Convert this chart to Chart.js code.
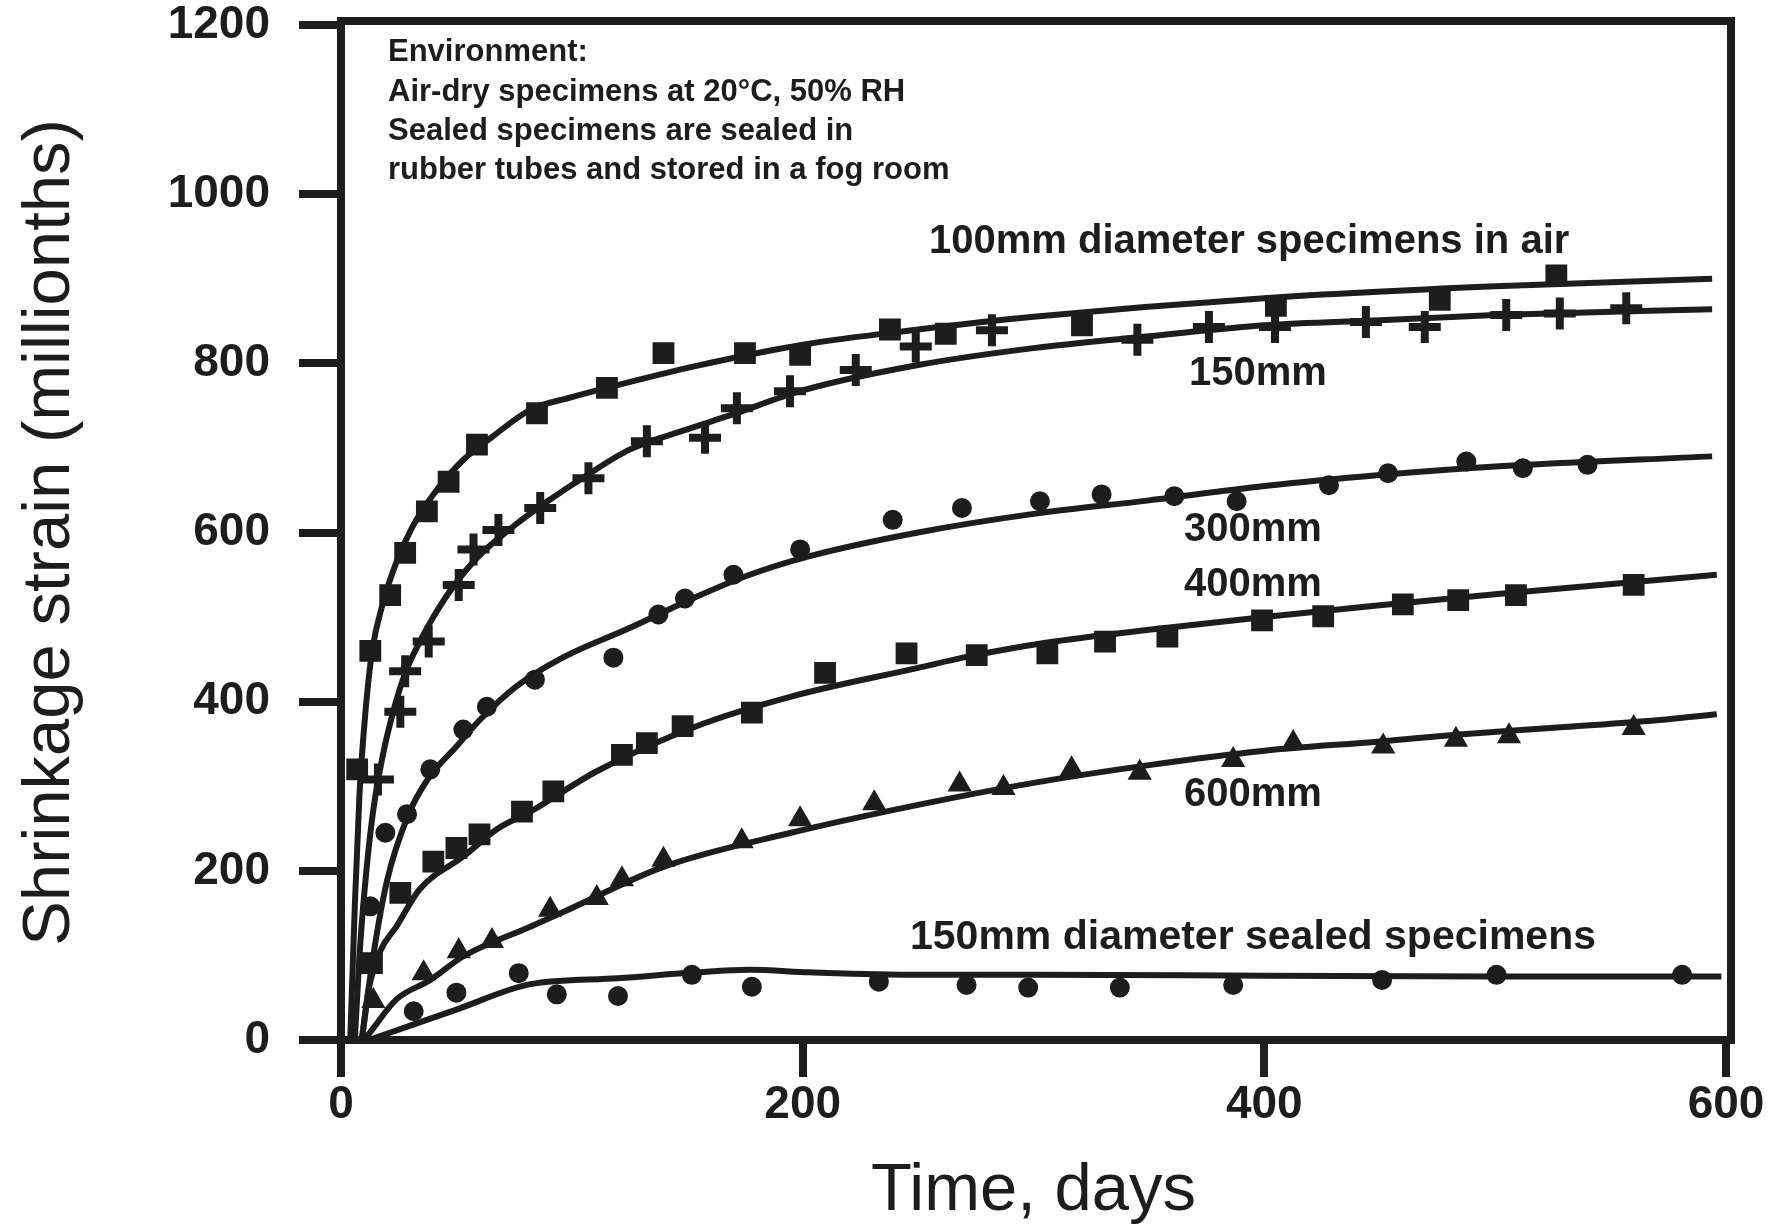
<!DOCTYPE html>
<html>
<head>
<meta charset="utf-8">
<title>Shrinkage strain vs time</title>
<script src="https://cdn.jsdelivr.net/npm/chart.js@4.4.1/dist/chart.umd.min.js"></script>
<style>
  html, body { margin: 0; padding: 0; background: #fff; }
  #wrap { width: 1781px; height: 1229px; }
</style>
</head>
<body>
<div id="wrap"><canvas id="chart" width="1781" height="1229"></canvas></div>
<script>
// ---------------------------------------------------------------------------
// Data: [days, strain in millionths]
// ---------------------------------------------------------------------------
const air100Pts = [[7,320],[12.7,460],[21.3,526],[27.8,576],[37.2,625],[46.6,660],[58.9,704],[84.9,741],[115.2,771],[139.7,812],[175,812],[198.9,810],[237.8,840],[262,835],[321,845],[405,868],[476,875],[526.5,904]];
const air100Fit = [[4,0],[6,160],[8,290],[10.5,385],[13.5,460],[18,515],[24,565],[31,607],[40,645],[53,686],[65,712],[82,745],[100,760],[118,773],[154,797],[200,822],[250,840],[300,855],[400,877],[500,891],[594,900]];

const air150Pts = [[16,308],[25.7,388],[27.8,436],[38,471],[51,538],[57.4,580],[68.2,603],[86.3,629],[107.2,664],[132.5,708],[157.7,712],[171.5,747],[194.5,767],[223,792],[249,820],[282,839],[345,828],[376,843],[404.6,843],[444,849],[469.5,843],[504.8,857],[528,859],[556.8,865]];
const air150Fit = [[6,0],[8,100],[11,200],[14,272],[18,335],[22.8,390],[28,435],[34,470],[40,500],[48.6,536],[60,573],[75,608],[89,636],[105,665],[125,698],[150,722],[169,739],[200,768],[250,798],[300,818],[350,832],[400,845],[450,851],[500,857],[594,864]];

const air300Pts = [[12.7,158],[19.2,245],[28.6,267],[38.7,320],[53,367],[63.2,394],[84,426],[118,452],[137.5,503],[149,522],[170,550],[198.9,580],[239,615],[269,629],[302.8,637],[329.5,645],[361,643],[388,637],[428,656],[453.6,670],[487.5,684],[512,676],[540,680]];
const air300Fit = [[9,0],[14,100],[20,189],[29,265],[38,310],[50,347],[60,378],[76,418],[96,452],[125,487],[154,524],[175,548],[203,572],[250,600],[300,622],[350,638],[400,655],[450,668],[500,678],[594,690]];

const air400Pts = [[13.4,91],[25.7,174],[40,211],[50,227],[60,243],[78.4,270],[92,294],[121.7,337],[132.5,351],[148,371],[178,387],[209.7,434],[245,457],[275.4,455],[306,457],[331,471],[358,477],[399,496],[425.5,501],[460,515],[484,520],[509,526],[560,538]];
const air400Fit = [[9,0],[12,60],[17,105],[24,134],[34,178],[53,217],[68,250],[82,270],[111,318],[154,371],[195,406],[250,440],[271,453],[306,470],[350,485],[400,500],[450,514],[500,527],[596,550]];

const air600Pts = [[14,46],[35.8,79],[51,105],[65.4,117],[90.6,154],[110.8,168],[121.7,190],[139.7,213],[173.6,235],[198.9,261],[231,280],[268,302],[287,298],[316.5,320],[346,316],[386.5,331],[412.5,351],[451.5,347],[483,355],[506,359],[560,369]];
const air600Fit = [[10,0],[14,14],[24,48],[38.7,71],[53,99],[82,134],[96,151],[140,205],[195,245],[250,278],[300,304],[350,325],[400,342],[450,353],[483,361],[530,370],[574,379],[596,385]];

const sealedPts = [[31.5,34],[50,56],[77,79],[93.5,54],[120,52],[152,77],[178,63],[233,69],[271,65],[297.7,62],[337.4,62],[386.5,65],[451,71],[500.6,77],[581,77]];
const sealedFit = [[12,0],[30,17],[50,36],[82,66],[120,73],[154,80],[177,83],[203,80],[250,77],[300,77],[400,76],[500,75],[598,75]];

const xTicks = [0, 200, 400, 600];
const yTicks = [0, 200, 400, 600, 800, 1000, 1200];

// ---------------------------------------------------------------------------
// Style
// ---------------------------------------------------------------------------
const INK = "#1d1d1d";
const FONT = '"Liberation Sans", Arial, Helvetica, sans-serif';
Chart.defaults.font.family = FONT;
Chart.defaults.color = INK;

const xy = pts => pts.map(([x, y]) => ({ x, y }));

const fit = pts => ({
  type: "line",
  data: xy(pts),
  borderColor: INK,
  borderWidth: 6,
  pointRadius: 0,
  fill: false,
  cubicInterpolationMode: "monotone",
  order: 2,
});

const marks = (pts, style, radius, extra = {}) => ({
  type: "scatter",
  data: xy(pts),
  pointStyle: style,
  pointRadius: radius,
  backgroundColor: INK,
  borderColor: INK,
  borderWidth: 2,
  order: 1,
  ...extra,
});

// free text inside the plot (pixel anchors, left / middle)
const notes = [
  { text: "Environment:",                          x: 388, y: 52,  size: 31 },
  { text: "Air-dry specimens at 20°C, 50% RH",     x: 388, y: 92,  size: 31 },
  { text: "Sealed specimens are sealed in",        x: 388, y: 131, size: 31 },
  { text: "rubber tubes and stored in a fog room", x: 388, y: 170, size: 31 },
  { text: "100mm diameter specimens in air",       x: 929, y: 242, size: 40 },
  { text: "150mm",                                 x: 1189, y: 374, size: 40 },
  { text: "300mm",                                 x: 1184, y: 530, size: 40 },
  { text: "400mm",                                 x: 1184, y: 585, size: 40 },
  { text: "600mm",                                 x: 1184, y: 795, size: 40 },
  { text: "150mm diameter sealed specimens",       x: 910, y: 938, size: 41 },
];

const notesPlugin = {
  id: "notes",
  afterDatasetsDraw(chart) {
    const { ctx } = chart;
    ctx.save();
    ctx.fillStyle = INK;
    ctx.textBaseline = "middle";
    ctx.textAlign = "left";
    notes.forEach(n => {
      ctx.font = `bold ${n.size}px ${FONT}`;
      ctx.fillText(n.text, n.x, n.y);
    });
    ctx.restore();
  },
};

// top and right edges of the box
const framePlugin = {
  id: "frame",
  afterDraw(chart) {
    const { ctx, chartArea: a } = chart;
    ctx.save();
    ctx.strokeStyle = INK;
    ctx.lineWidth = 8;
    ctx.lineCap = "square";
    ctx.beginPath();
    ctx.moveTo(a.left, a.top - 4);
    ctx.lineTo(a.right + 5, a.top - 4);
    ctx.lineTo(a.right + 5, a.bottom);
    ctx.stroke();
    ctx.restore();
  },
};

const axisCommon = {
  type: "linear",
  grid: { drawOnChartArea: false, drawTicks: true, color: INK, lineWidth: 8 },
  border: { display: true, color: INK, width: 8 },
};

const tickFont = { size: 46, weight: "bold", lineHeight: 1.09 };

new Chart(document.getElementById("chart"), {
  data: {
    datasets: [
      fit(air100Fit), fit(air150Fit), fit(air300Fit),
      fit(air400Fit), fit(air600Fit), fit(sealedFit),
      marks(air100Pts, "rect", 14),
      marks(air150Pts, "cross", 16, { borderWidth: 8 }),
      marks(air300Pts, "circle", 9),
      marks(air400Pts, "rect", 14),
      marks(air600Pts, "triangle", 12),
      marks(sealedPts, "circle", 9),
    ],
  },
  options: {
    responsive: false,
    animation: false,
    events: [],
    layout: { padding: { top: 25, right: 55, left: 0, bottom: 0 } },
    plugins: { legend: { display: false }, tooltip: { enabled: false } },
    scales: {
      x: {
        ...axisCommon,
        min: 0, max: 600,
        grid: { ...axisCommon.grid, tickLength: 37 },
        afterBuildTicks: s => { s.ticks = xTicks.map(value => ({ value })); },
        afterFit: s => { s.height = 189; },
        ticks: { color: INK, padding: 3, maxRotation: 0, font: tickFont, callback: v => String(v) },
        title: { display: true, text: "Time, days", color: INK,
                 font: { size: 67, weight: "normal" }, padding: { top: 0, bottom: -3 } },
      },
      y: {
        ...axisCommon,
        min: 0, max: 1200,
        grid: { ...axisCommon.grid, tickLength: 42 },
        afterBuildTicks: s => { s.ticks = yTicks.map(value => ({ value })); },
        afterFit: s => { s.width = 341; s.paddingTop = 0; s.paddingBottom = 0; },
        ticks: { color: INK, padding: 29, font: tickFont, callback: v => String(v) },
        title: { display: true, text: "Shrinkage strain (millionths)", color: INK,
                 font: { size: 67, weight: "normal" }, padding: { top: 10, bottom: 0 } },
      },
    },
  },
  plugins: [notesPlugin, framePlugin],
});
</script>
</body>
</html>
